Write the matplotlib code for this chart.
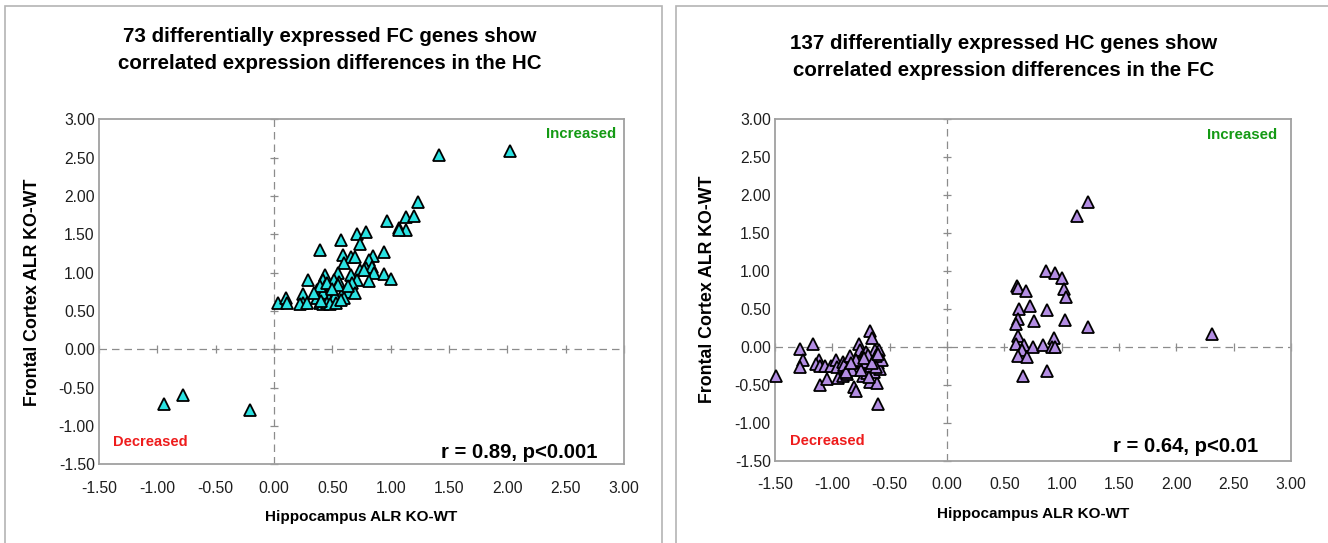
import matplotlib
matplotlib.use("Agg")
import matplotlib.pyplot as plt
from matplotlib.patches import Rectangle
import numpy as np

plt.rcParams['font.family'] = ['Liberation Sans', 'DejaVu Sans']

W, H = 1328, 543

# ---------------- data ----------------
fc_hc_x = [1.41, 2.02, 1.23, 1.13, 1.20, 0.97, 1.07, 1.13, 1.07, 0.71, 0.79, 0.57,
           0.74, 0.39, 0.59, 0.66, 0.69, 0.85, 0.94, 0.60, 0.81, 0.74, 0.79, 0.84,
           0.86, 0.94, 1.00, 0.81, 0.55, 0.44, 0.66, 0.29, 0.42, 0.51, 0.56, 0.71,
           0.67, 0.37, 0.44, 0.48, 0.42, 0.51, 0.59, 0.63, 0.69, 0.60, 0.25, 0.37,
           0.47, 0.52, 0.25, 0.22, 0.28, 0.39, 0.42, 0.45, 0.48, 0.53, 0.03, 0.10,
           0.11, 0.39, 0.34, 0.55, 0.63, 0.77, 0.45, 0.40, 0.57, 0.50,
           -0.94, -0.78, -0.21]
fc_hc_y = [2.53, 2.59, 1.92, 1.73, 1.74, 1.67, 1.58, 1.56, 1.55, 1.50, 1.53, 1.43,
           1.37, 1.29, 1.23, 1.21, 1.20, 1.22, 1.27, 1.12, 1.16, 1.04, 1.06, 1.08,
           1.00, 0.98, 0.92, 0.89, 1.00, 0.97, 0.97, 0.90, 0.90, 0.90, 0.88, 0.90,
           0.86, 0.77, 0.82, 0.77, 0.73, 0.70, 0.75, 0.75, 0.73, 0.67, 0.72, 0.67,
           0.66, 0.70, 0.61, 0.59, 0.60, 0.61, 0.59, 0.60, 0.59, 0.60, 0.61, 0.67,
           0.60, 0.82, 0.74, 0.84, 0.82, 1.03, 0.86, 0.63, 0.64, 0.79,
           -0.71, -0.59, -0.79]

hc_fc_x = [-1.49, -1.28, -1.26, -1.28, -1.17, -1.12, -1.14, -1.11, -1.06, -1.11,
           -1.05, -1.01, -0.97, -0.96, -0.91, -0.90, -0.95, -0.91, -0.87, -0.85,
           -0.81, -0.77, -0.76, -0.74, -0.71, -0.77, -0.73, -0.70, -0.67, -0.64,
           -0.63, -0.59, -0.67, -0.65, -0.81, -0.79, -0.73, -0.67, -0.61, -0.60,
           -0.64, -0.60, -0.58, -0.70, -0.61, -0.57, -0.73, -0.69, -0.83, -0.88,
           -0.66, -0.62, -0.75, -0.68, -0.62, -0.79, -0.72, -0.65, -0.60, -0.84,
           1.23, 1.13, 0.86, 0.94, 1.00, 1.02, 1.04, 0.61, 0.62, 0.69,
           0.63, 0.72, 0.87, 0.62, 0.60, 0.76, 1.03, 1.23, 0.62, 0.60,
           0.67, 0.65, 0.62, 0.70, 0.75, 0.84, 0.93, 0.92, 0.94, 0.66,
           0.87, 2.31]
hc_fc_y = [-0.39, -0.03, -0.18, -0.27, 0.03, -0.17, -0.23, -0.26, -0.25, -0.50,
           -0.42, -0.26, -0.18, -0.27, -0.20, -0.24, -0.41, -0.39, -0.36, -0.12,
           -0.26, 0.04, -0.05, -0.13, -0.07, -0.20, -0.29, -0.22, -0.15, -0.09,
           -0.04, -0.04, 0.20, 0.12, -0.53, -0.58, -0.39, -0.46, -0.48, -0.75,
           -0.33, -0.22, -0.30, -0.35, -0.15, -0.18, -0.20, -0.11, -0.31, -0.33,
           -0.26, -0.12, -0.31, -0.40, -0.27, -0.17, -0.15, -0.21, -0.10, -0.22,
           1.90, 1.72, 1.00, 0.97, 0.91, 0.76, 0.65, 0.80, 0.77, 0.73,
           0.50, 0.53, 0.48, 0.37, 0.30, 0.34, 0.35, 0.26, 0.14, 0.04,
           0.02, -0.04, -0.12, -0.13, 0.00, 0.02, 0.11, 0.00, -0.01, -0.38,
           -0.32, 0.17]

x_ticks = [-1.5, -1.0, -0.5, 0.0, 0.5, 1.0, 1.5, 2.0, 2.5, 3.0]
y_ticks = [-1.5, -1.0, -0.5, 0.0, 0.5, 1.0, 1.5, 2.0, 2.5, 3.0]

titles = ["73 differentially expressed FC genes show\ncorrelated expression differences in the HC",
          "137 differentially expressed HC genes show\ncorrelated expression differences in the FC"]
stats = ["r = 0.89, p<0.001", "r = 0.64, p<0.01"]
xlabel = "Hippocampus ALR KO-WT"
ylabel = "Frontal Cortex ALR KO-WT"

# ---------------- layout (pixels) ----------------
fig = plt.figure(figsize=(W / 100, H / 100), dpi=100)

def fx(x):
    return x / W

def fy(y):
    return 1 - y / H

# panel frames
for (x0, x1) in [(5, 662), (676, 1335)]:
    fig.patches.append(Rectangle((fx(x0), fy(560)), fx(x1 - x0), (560 - 6) / H,
                                 transform=fig.transFigure, fill=False,
                                 edgecolor='#b4b4b4', linewidth=1.2))

panels = [
    dict(box=(99, 119.3, 624, 464.3), x=fc_hc_x, y=fc_hc_y, color='#2ae2e2',
         title_xy=(330, 50), ylab_x=33, xlab_y=517, title=titles[0], stat=stats[0],
         inc=(0.985, 0.977), dec=(0.027, 0.064), st=(0.949, 0.035)),
    dict(box=(775, 118.7, 1291, 460.7), x=hc_fc_x, y=hc_fc_y, color='#b38de3',
         title_xy=(1004, 57), ylab_x=707, xlab_y=514, title=titles[1], stat=stats[1],
         inc=(0.973, 0.972), dec=(0.029, 0.058), st=(0.936, 0.041)),
]

for p in panels:
    l, t, r, b = p['box']
    ax = fig.add_axes([fx(l), fy(b), fx(r - l), (b - t) / H])
    ax.set_xlim(-1.5, 3.0)
    ax.set_ylim(-1.5, 3.0)
    ax.set_xticks(x_ticks)
    ax.set_yticks(y_ticks)
    ax.set_xticklabels([f"{v:.2f}" for v in x_ticks], fontsize=11.3, color='#1e1e1e')
    ax.set_yticklabels([f"{v:.2f}" for v in y_ticks], fontsize=11.3, color='#1e1e1e')
    ax.tick_params(axis='x', length=0, pad=12)
    ax.tick_params(axis='y', length=0, pad=3)
    for s in ax.spines.values():
        s.set_color('#a0a0a0')
        s.set_linewidth(1.3)
    # zero axes (dashed) with cross ticks
    ax.axhline(0, color='#8c8c8c', lw=0.9, ls=(0, (6, 4)), zorder=1)
    ax.axvline(0, color='#8c8c8c', lw=0.9, ls=(0, (6, 4)), zorder=1)
    ax.plot(x_ticks, [0] * len(x_ticks), ls='none', marker='|', ms=6,
            mew=0.9, color='#8c8c8c', zorder=1, clip_on=False)
    ax.plot([0] * len(y_ticks), y_ticks, ls='none', marker='_', ms=6,
            mew=0.9, color='#8c8c8c', zorder=1, clip_on=False)
    ax.plot(p['x'], p['y'], ls='none', marker='^', ms=9, mfc=p['color'],
            mec='black', mew=1.3, zorder=3, clip_on=False)
    ax.text(*p['inc'], "Increased", transform=ax.transAxes, ha='right', va='top',
            fontsize=10.8, fontweight='bold', color='#149a14')
    ax.text(*p['dec'], "Decreased", transform=ax.transAxes, ha='left', va='center',
            fontsize=10.5, fontweight='bold', color='#ee1c1c')
    ax.text(*p['st'], p['stat'], transform=ax.transAxes, ha='right', va='center',
            fontsize=14.6, fontweight='bold', color='black')
    tx, ty = p['title_xy']
    fig.text(fx(tx), fy(ty), p['title'], ha='center', va='center', fontsize=14.8,
             fontweight='bold', linespacing=1.5, color='black')
    fig.text(fx(p['ylab_x']), fy((t + b) / 2), ylabel, rotation=90, ha='center',
             va='center', fontsize=12.8, fontweight='bold', color='black')
    fig.text(fx((l + r) / 2), fy(p['xlab_y']), xlabel, ha='center', va='center',
             fontsize=11, fontweight='bold', color='black')

fig.savefig("out.png", dpi=100, facecolor='white')
